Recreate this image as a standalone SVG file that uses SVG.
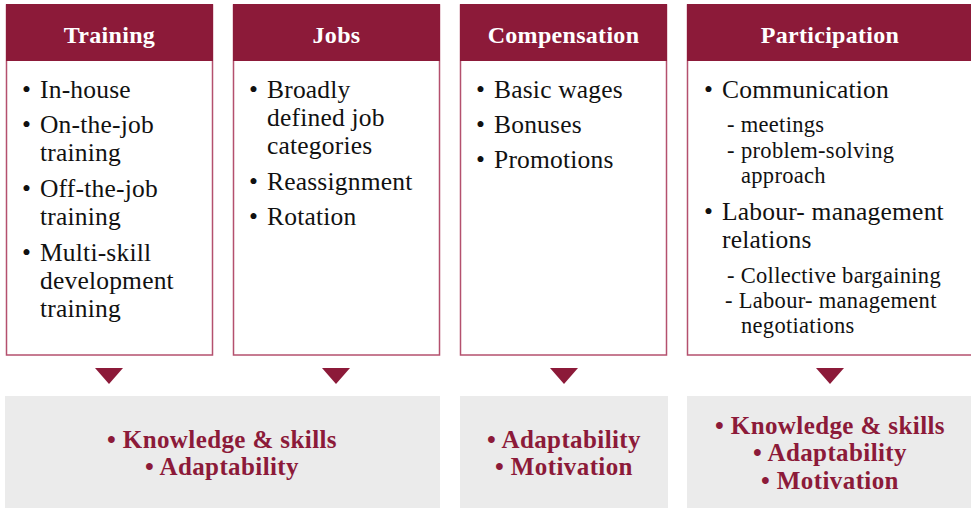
<svg xmlns="http://www.w3.org/2000/svg" width="971" height="508" viewBox="0 0 971 508">
  <style>
    .hdr { fill: #8c1a39; }
    .body { fill: #ffffff; stroke: #b4506e; stroke-width: 1.5; }
    .title { font-family: "Liberation Serif", "DejaVu Serif", serif; font-weight: bold; font-size: 24px; fill: #ffffff; text-anchor: middle; letter-spacing: 0.3px; }
    .item { font-family: "Liberation Serif", "DejaVu Serif", serif; font-size: 25.5px; fill: #111111; letter-spacing: 0.2px; }
    .sub { font-family: "Liberation Serif", "DejaVu Serif", serif; font-size: 22.5px; fill: #111111; letter-spacing: 0.3px; }
    .out { fill: #ebebeb; }
    .res { font-family: "Liberation Serif", "DejaVu Serif", serif; font-weight: bold; font-size: 25px; fill: #8c1a39; text-anchor: middle; letter-spacing: 0.4px; }
    .arrow { fill: #8c1a39; }
  </style>

  <!-- Training column -->
  <g id="training">
    <rect class="body" x="6.5" y="5" width="206" height="350"/>
    <rect class="hdr" x="6" y="4" width="207" height="57"/>
    <text class="title" x="109.5" y="43">Training</text>
    <text class="item"><tspan x="22" y="98">•</tspan><tspan x="40" y="98">In-house</tspan></text>
    <text class="item"><tspan x="22" y="133">•</tspan><tspan x="40" y="133">On-the-job</tspan><tspan x="40" y="161">training</tspan></text>
    <text class="item"><tspan x="22" y="197">•</tspan><tspan x="40" y="197">Off-the-job</tspan><tspan x="40" y="225">training</tspan></text>
    <text class="item"><tspan x="22" y="261">•</tspan><tspan x="40" y="261">Multi-skill</tspan><tspan x="40" y="289">development</tspan><tspan x="40" y="317">training</tspan></text>
  </g>

  <!-- Jobs column -->
  <g id="jobs">
    <rect class="body" x="233.5" y="5" width="206" height="350"/>
    <rect class="hdr" x="233" y="4" width="207" height="57"/>
    <text class="title" x="336.5" y="43">Jobs</text>
    <text class="item"><tspan x="249" y="98">•</tspan><tspan x="267" y="98">Broadly</tspan><tspan x="267" y="126">defined job</tspan><tspan x="267" y="154">categories</tspan></text>
    <text class="item"><tspan x="249" y="190">•</tspan><tspan x="267" y="190">Reassignment</tspan></text>
    <text class="item"><tspan x="249" y="225">•</tspan><tspan x="267" y="225">Rotation</tspan></text>
  </g>

  <!-- Compensation column -->
  <g id="compensation">
    <rect class="body" x="460.5" y="5" width="206" height="350"/>
    <rect class="hdr" x="460" y="4" width="207" height="57"/>
    <text class="title" x="563.5" y="43">Compensation</text>
    <text class="item"><tspan x="476" y="98">•</tspan><tspan x="494" y="98">Basic wages</tspan></text>
    <text class="item"><tspan x="476" y="133">•</tspan><tspan x="494" y="133">Bonuses</tspan></text>
    <text class="item"><tspan x="476" y="168">•</tspan><tspan x="494" y="168">Promotions</tspan></text>
  </g>

  <!-- Participation column -->
  <g id="participation">
    <rect class="body" x="687.5" y="5" width="290" height="350"/>
    <rect class="hdr" x="687" y="4" width="290" height="57"/>
    <text class="title" x="830" y="43">Participation</text>
    <text class="item"><tspan x="704" y="98">•</tspan><tspan x="722" y="98">Communication</tspan></text>
    <text class="sub"><tspan x="727" y="132">- meetings</tspan></text>
    <text class="sub"><tspan x="727" y="158">-</tspan><tspan x="741" y="158">problem-solving</tspan><tspan x="741" y="183">approach</tspan></text>
    <text class="item"><tspan x="704" y="220">•</tspan><tspan x="722" y="220">Labour- management</tspan><tspan x="722" y="248">relations</tspan></text>
    <text class="sub"><tspan x="727" y="283">- Collective bargaining</tspan></text>
    <text class="sub"><tspan x="725" y="308">- Labour- management</tspan><tspan x="741" y="333">negotiations</tspan></text>
  </g>

  <!-- Downward pointers -->
  <g id="connectors">
    <polygon class="arrow" points="95,368 123,368 109,384"/>
    <polygon class="arrow" points="322,368 350,368 336,384"/>
    <polygon class="arrow" points="550,368 578,368 564,384"/>
    <polygon class="arrow" points="816,368 844,368 830,384"/>
  </g>

  <!-- Outcomes -->
  <g id="outcome-training-jobs">
    <rect class="out" x="5" y="396" width="435" height="112"/>
    <text class="res" x="222" y="448">• Knowledge &amp; skills</text>
    <text class="res" x="222" y="475">• Adaptability</text>
  </g>
  <g id="outcome-compensation">
    <rect class="out" x="460" y="396" width="208" height="112"/>
    <text class="res" x="564" y="448">• Adaptability</text>
    <text class="res" x="564" y="475">• Motivation</text>
  </g>
  <g id="outcome-participation">
    <rect class="out" x="687" y="396" width="284" height="112"/>
    <text class="res" x="830" y="434">• Knowledge &amp; skills</text>
    <text class="res" x="830" y="461">• Adaptability</text>
    <text class="res" x="830" y="489">• Motivation</text>
  </g>
</svg>
